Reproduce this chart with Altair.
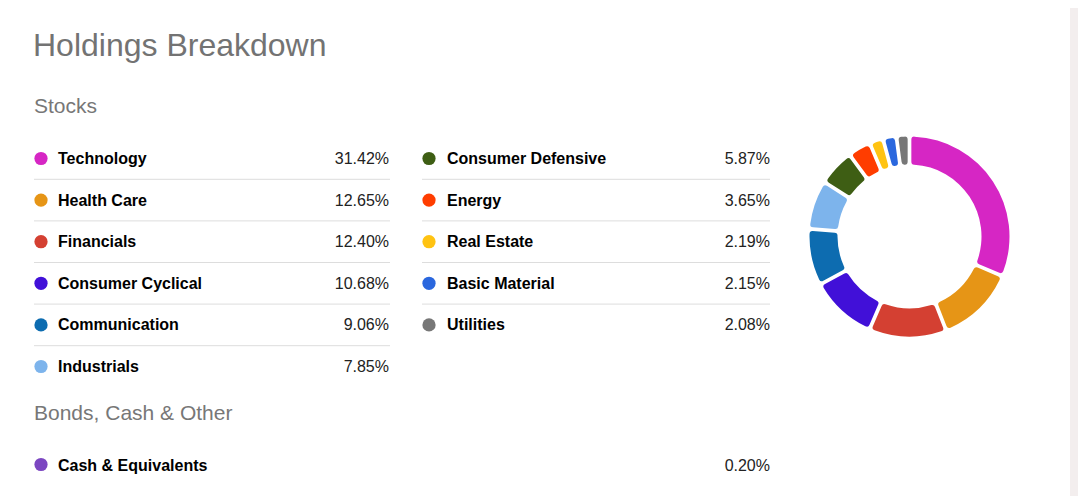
import altair as alt
import pandas as pd

# ---- data ----
categories = ["Technology", "Health Care", "Financials", "Consumer Cyclical",
              "Communication", "Industrials", "Consumer Defensive", "Energy",
              "Real Estate", "Basic Material", "Utilities"]
weights = [31.42, 12.65, 12.40, 10.68, 9.06, 7.85, 5.87, 3.65, 2.19, 2.15, 2.08]
colors = ["#d626c4", "#e69516", "#d44032", "#4110d8", "#0d6cb0", "#7db4ec",
          "#3e5e14", "#ff3d00", "#ffc312", "#2a67de", "#777777"]
other_categories = ["Cash & Equivalents"]
other_weights = [0.20]
other_colors = ["#7b46c1"]
rows_per_col = 6

FONT = "Liberation Sans"

df = pd.DataFrame({
    "name": categories,
    "pct": weights,
    "idx": list(range(len(categories))),
})
df["col"] = df["idx"] // rows_per_col
df["row"] = df["idx"] % rows_per_col
df["label"] = [f"{v:.2f}%" for v in df["pct"]]

odf = pd.DataFrame({"name": other_categories, "pct": other_weights})
odf["label"] = [f"{v:.2f}%" for v in odf["pct"]]

cscale = alt.Scale(domain=categories + other_categories, range=colors + other_colors)
yscale = alt.Scale(domain=[0, 5], range=[150.5, 358.5], nice=False, zero=False)

one = pd.DataFrame({"k": [0]})

layers = []

# right page strip
layers.append(alt.Chart(one).mark_rect(color="#f3eeee").encode(
    x=alt.value(1062), x2=alt.value(1070), y=alt.value(0), y2=alt.value(488)))

# headings
layers.append(alt.Chart(one).mark_text(
    text="Holdings Breakdown", font=FONT, fontSize=32, color="#737373",
    align="left", baseline="alphabetic").encode(x=alt.value(25), y=alt.value(48)))
layers.append(alt.Chart(one).mark_text(
    text="Stocks", font=FONT, fontSize=21, color="#777777",
    align="left", baseline="alphabetic").encode(x=alt.value(26), y=alt.value(105)))
layers.append(alt.Chart(one).mark_text(
    text="Bonds, Cash & Other", font=FONT, fontSize=21, color="#777777",
    align="left", baseline="alphabetic").encode(x=alt.value(26), y=alt.value(412)))

# legend columns
dot_x = [33, 421]
lab_x = [50, 439]
val_x = [381, 762]
rule_x = [(26, 382), (414, 762)]
counts = [int((df["col"] == c).sum()) for c in range(2)]

for c in range(2):
    base = alt.Chart(df).transform_filter(f"datum.col == {c}")
    layers.append(base.transform_filter(f"datum.row < {counts[c] - 1}")
                  .transform_calculate(ysep="datum.row + 0.5")
                  .mark_rule(color="#dddddd", strokeWidth=1).encode(
        x=alt.value(rule_x[c][0]), x2=alt.value(rule_x[c][1]),
        y=alt.Y("ysep:Q", scale=yscale, axis=None)))
    layers.append(base.mark_circle(size=175, opacity=1).encode(
        x=alt.value(dot_x[c]),
        y=alt.Y("row:Q", scale=yscale, axis=None),
        color=alt.Color("name:N", scale=cscale, legend=None)))
    layers.append(base.mark_text(font=FONT, fontSize=16, fontWeight="bold",
                                 color="#000000", align="left", baseline="alphabetic",
                                 dy=5.5).encode(
        x=alt.value(lab_x[c]),
        y=alt.Y("row:Q", scale=yscale, axis=None),
        text="name:N"))
    layers.append(base.mark_text(font=FONT, fontSize=16, color="#222222",
                                 align="right", baseline="alphabetic", dy=5.5).encode(
        x=alt.value(val_x[c]),
        y=alt.Y("row:Q", scale=yscale, axis=None),
        text="label:N"))

# other holdings row
layers.append(alt.Chart(odf).mark_circle(size=175, opacity=1).encode(
    x=alt.value(dot_x[0]), y=alt.value(456.5),
    color=alt.Color("name:N", scale=cscale, legend=None)))
layers.append(alt.Chart(odf).mark_text(font=FONT, fontSize=16, fontWeight="bold",
                                       color="#000000", align="left", baseline="alphabetic").encode(
    x=alt.value(lab_x[0]), y=alt.value(462.5), text="name:N"))
layers.append(alt.Chart(odf).mark_text(font=FONT, fontSize=16, color="#222222",
                                       align="right", baseline="alphabetic").encode(
    x=alt.value(val_x[1]), y=alt.value(462.5), text="label:N"))

# donut
layers.append(alt.Chart(df).mark_arc(radius=100, radius2=72, cornerRadius=3,
                                     padAngle=0.03).encode(
    theta=alt.Theta("pct:Q", stack=True),
    order=alt.Order("idx:Q"),
    color=alt.Color("name:N", scale=cscale, legend=None),
    x=alt.value(901.5), y=alt.value(228.5)))

chart = alt.layer(*layers).properties(
    width=1070, height=488,
    autosize=alt.AutoSizeParams(type="none"),
    padding=0,
    background="white",
).configure_view(strokeWidth=0)

chart.save("out.html", embed_options={"renderer": "svg", "actions": False})
